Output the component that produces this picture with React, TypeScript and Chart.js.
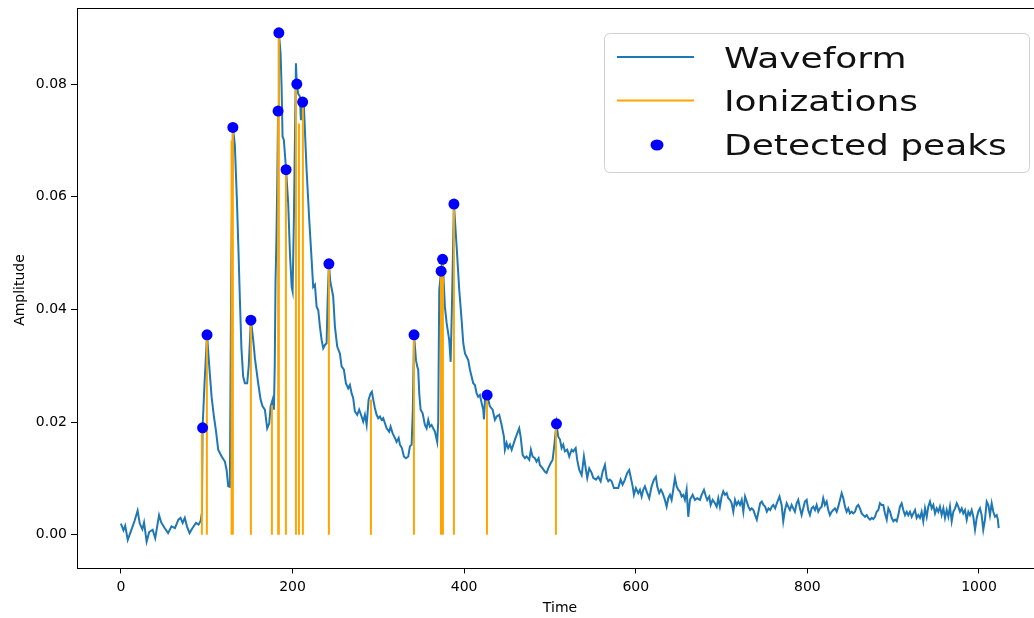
import React, { useEffect, useRef } from "react";
import { Chart, registerables } from "chart.js";

Chart.register(...registerables);

// ---------------- data ----------------
const waveTime = [
  0, 3, 5, 8, 12, 16, 19.5, 22, 25, 27, 30, 33, 37, 40, 44.5, 47, 51, 55, 59, 63, 67, 69.5, 72, 74.5, 77, 80, 83.5, 87.5, 90.5, 93,
  94.5, 95.2, 97.5, 100.4, 103, 105.7, 108.4, 110.7, 113.4, 117.4, 121.2, 123.2, 125.1, 127, 128.5, 130.5, 132.8, 135.2, 137, 138.7,
  140.5, 142.5, 144.5, 147.2, 149, 151.5, 154.2, 156.2, 160, 162.8, 165.1, 167.8, 170.5, 172.9, 174.5, 176.8, 178.3, 179.3, 180.2, 181.2,
  182.2, 183.2, 184.1, 186.1, 187.3, 188.4, 189.9, 192.5, 195, 197, 199, 200.1, 201.6, 204, 205, 206.6, 208.6, 209.8, 211.8, 213.3,
  216.4, 219.5, 222.3, 224.1, 226.1, 228.1, 230, 231.9, 233.9, 235.8, 237.8, 239.7, 241, 242.4, 244, 247.4, 249.4, 252.1, 255.2, 257.2,
  259.9, 262.2, 264.9, 266.9, 268.9, 270.7, 272.7, 275.4, 277.7, 280.5, 282.4, 284.4, 286.4, 288.7, 291, 292.5, 294.1, 296, 298, 299.9,
  301.9, 303.8, 305.7, 307.7, 309.7, 312.7, 314.3, 316.7, 319.3, 321.3, 323.7, 325.2, 327.5, 329.8, 332.2, 334.9, 336.8, 338.8, 340.2, 341.6,
  343.9, 345.3, 346.5, 347.7, 349.3, 351.6, 354.3, 356.3, 358.2, 360.1, 362.1, 364, 366, 368.6, 369.8, 371, 373.2, 374.9, 377.6, 379.6,
  382.6, 384.3, 386, 388.1, 391.3, 394.3, 397.1, 399, 401, 402.9, 404.8, 406.8, 408.7, 410.6, 412.6, 414.6, 416.4, 418.4, 420.4, 422.3,
  423.1, 424.3, 426.8, 430, 433.2, 435.9, 437.9, 440.9, 443.7, 446.4, 447.5, 449.5, 451.4, 453.4, 455.4, 459.2, 461.9, 464.2, 465.9, 468.2,
  470.9, 472.8, 475.9, 477.8, 479.8, 482.5, 484.4, 486.8, 488.3, 491.5, 494.2, 496.1, 498, 500.8, 503.1, 505.2, 507.6, 509.7, 511.7, 513.6,
  515.5, 517.5, 520.2, 522.5, 525.3, 527.2, 530, 531.8, 534.2, 537, 539.6, 542, 543.5, 545.8, 548.6, 550.5, 553.6, 556.3, 559.1, 561.4,
  564.1, 566.1, 568, 569.9, 571.9, 574.6, 579.6, 582.4, 584.7, 587.4, 590.1, 592.4, 596.4, 597.9, 600.2, 602.9, 604.9, 606.9, 608.7, 610.7,
  612.7, 615.7, 618.5, 621.2, 623.5, 625, 627.4, 629.4, 631.4, 634, 636, 637.9, 639.9, 641.8, 643.7, 645.7, 647.7, 649.5, 651.5, 653.5,
  655.4, 657.3, 659.3, 661.2, 663.2, 666.3, 669, 671.7, 674.8, 676.8, 679.5, 681.8, 683.3, 685.7, 687.3, 689.6, 692.3, 694.3, 696.2, 698.1,
  700.1, 702, 704, 706, 707.8, 709.8, 711.8, 713.7, 715.7, 717.6, 719.6, 721.5, 723.5, 725.4, 727.4, 729.4, 731.3, 733.3, 735.2, 737.1,
  739.1, 741.1, 743, 745, 746.9, 748.8, 750.8, 752.8, 754.7, 756.7, 758.6, 760.3, 762.5, 764.4, 767.5, 770, 771.9, 773.9, 775.9, 777.7,
  779.7, 781.7, 783.6, 785.5, 787.5, 789.4, 791.4, 793.3, 795.2, 797.2, 799.2, 801, 803, 805, 806.9, 808.9, 810.8, 812.7, 814.7, 816.7,
  818.5, 820.5, 822.5, 824.4, 826.3, 828.3, 830.2, 832.2, 834.2, 836, 838, 840, 841.9, 843.9, 845.8, 847.7, 849.6, 851.6, 853.5, 855.5,
  857.5, 859.4, 861.3, 863.3, 865.2, 867.2, 869.2, 871, 873, 875, 876.8, 878.8, 880.8, 882.7, 884.6, 886.6, 888.5, 890.5, 892.5, 894.4,
  896.3, 898.3, 900.2, 902.2, 904.1, 906, 907.9, 909.9, 911.8, 913.8, 915.8, 917.6, 919.6, 921.6, 923.5, 925.5, 927.4, 929.3, 931.2, 933.2,
  935.1, 937.1, 939.1, 940.9, 942.9, 944.9, 946.8, 948.8, 950.7, 952.6, 954.5, 956.5, 958.5, 960.4, 962.4, 964.3, 966.2, 968.2, 970.1, 972.1,
  974.1, 975.9, 977.9, 979.9, 981.7, 983.7, 985.7, 987.6, 989.5, 991.5, 993.4, 995.4, 997.4, 999.2, 1001.2, 1003.1, 1005, 1007, 1009, 1010.9,
  1012.8, 1014.8, 1016.7, 1018.7, 1020.7, 1022, 1023,
];

const waveAmp = [
  0.002, 0.0008, 0.0016, -0.0009, 0.0008, 0.0025, 0.0043, 0.002, 0.001, 0.0022, -0.0012, 0.0005, 0.0009, -0.0006, 0.0035, 0.0022, 0.0012, 0.0003, 0.0015, 0.0012, 0.0027, 0.003, 0.0021, 0.003, 0.0015, 0.0003, 0.0012, 0.0021, 0.0018, 0.0025,
  0.004, 0.019, 0.027, 0.0355, 0.0299, 0.0245, 0.021, 0.0186, 0.0151, 0.0139, 0.013, 0.0115, 0.0086, 0.0085, 0.045, 0.0723, 0.0692, 0.0594, 0.0506, 0.0417,
  0.033, 0.0281, 0.0269, 0.0269, 0.03, 0.0381, 0.0346, 0.0313, 0.0269, 0.024, 0.0228, 0.0222, 0.0189, 0.0198, 0.0228, 0.024, 0.0222, 0.03, 0.045, 0.052,
  0.062, 0.0752, 0.0891, 0.0854, 0.0795, 0.0707, 0.0701, 0.0648, 0.0588, 0.05, 0.044, 0.0432, 0.0559, 0.0837, 0.08, 0.0783, 0.0778, 0.0736, 0.0768, 0.076,
  0.0648, 0.0559, 0.0488, 0.044, 0.0444, 0.0405, 0.0399, 0.037, 0.0346, 0.0331, 0.0337, 0.034, 0.042, 0.0481, 0.045, 0.0423, 0.037, 0.0334, 0.0322, 0.0299,
  0.0293, 0.0269, 0.026, 0.0266, 0.0251, 0.0243, 0.0219, 0.0213, 0.0222, 0.021, 0.0201, 0.0213, 0.0195, 0.024, 0.0251, 0.0254, 0.024, 0.0225, 0.0213, 0.0207,
  0.021, 0.0204, 0.0207, 0.0198, 0.0189, 0.0183, 0.0192, 0.018, 0.0172, 0.0165, 0.0172, 0.016, 0.0154, 0.0139, 0.0136, 0.0139, 0.0157, 0.016, 0.022, 0.0355,
  0.031, 0.0299, 0.0293, 0.0251, 0.0222, 0.0216, 0.0195, 0.0189, 0.0204, 0.0192, 0.0195, 0.0189, 0.0183, 0.0165, 0.02, 0.0435, 0.0468, 0.0489, 0.0405, 0.0376,
  0.0346, 0.0307, 0.042, 0.0587, 0.0511, 0.0435, 0.0381, 0.034, 0.0322, 0.0316, 0.031, 0.0293, 0.0281, 0.0269, 0.0266, 0.0251, 0.0245, 0.0248, 0.0234, 0.0222,
  0.0205, 0.024, 0.0248, 0.0228, 0.0222, 0.0204, 0.021, 0.0213, 0.0195, 0.0174, 0.0151, 0.0163, 0.0154, 0.016, 0.0151, 0.0169, 0.018, 0.0189, 0.0174, 0.0142,
  0.0136, 0.0139, 0.0133, 0.0151, 0.0139, 0.0136, 0.013, 0.0136, 0.0124, 0.0118, 0.0112, 0.011, 0.0118, 0.0127, 0.0133, 0.016, 0.0197, 0.0174, 0.0169, 0.0154,
  0.016, 0.0148, 0.0151, 0.0139, 0.0151, 0.0148, 0.0154, 0.0133, 0.0115, 0.0106, 0.0139, 0.0115, 0.0101, 0.0118, 0.011, 0.0101, 0.0098, 0.0103, 0.0095, 0.0112,
  0.0124, 0.0101, 0.0095, 0.0098, 0.0095, 0.0083, 0.0083, 0.0098, 0.0089, 0.0098, 0.011, 0.0115, 0.0086, 0.0071, 0.0083, 0.0074, 0.008, 0.0068, 0.008, 0.0086,
  0.0077, 0.0065, 0.0086, 0.0098, 0.0103, 0.0086, 0.0074, 0.008, 0.0074, 0.0062, 0.005, 0.0065, 0.0071, 0.0062, 0.008, 0.0101, 0.0086, 0.008, 0.0077, 0.0068,
  0.0071, 0.0062, 0.008, 0.0032, 0.0062, 0.0071, 0.0062, 0.0065, 0.0062, 0.0071, 0.008, 0.0068, 0.0062, 0.0068, 0.0053, 0.0062, 0.0056, 0.005, 0.0065, 0.005,
  0.0068, 0.0077, 0.0071, 0.0074, 0.0065, 0.0062, 0.0056, 0.0041, 0.0062, 0.0053, 0.0059, 0.0053, 0.0062, 0.0041, 0.0068, 0.0059, 0.005, 0.0044, 0.0047, 0.0044,
  0.0035, 0.0027, 0.0041, 0.0056, 0.0059, 0.0053, 0.005, 0.0041, 0.0047, 0.0044, 0.005, 0.0053, 0.0047, 0.0056, 0.0068, 0.0053, 0.0024, 0.0044, 0.0056, 0.005,
  0.0044, 0.0053, 0.0047, 0.0041, 0.0056, 0.0062, 0.0047, 0.0035, 0.0047, 0.0059, 0.0062, 0.0044, 0.0035, 0.0047, 0.005, 0.0044, 0.0053, 0.0041, 0.0047, 0.005,
  0.0065, 0.0053, 0.0059, 0.0044, 0.0035, 0.0041, 0.0044, 0.0047, 0.0041, 0.005, 0.0062, 0.0074, 0.0065, 0.005, 0.0041, 0.0047, 0.0038, 0.0041, 0.0038, 0.0041,
  0.005, 0.0053, 0.0047, 0.0038, 0.0035, 0.0032, 0.0035, 0.003, 0.0027, 0.003, 0.0028, 0.0032, 0.0041, 0.0044, 0.0056, 0.0053, 0.0053, 0.0038, 0.0027, 0.0047,
  0.0041, 0.003, 0.0024, 0.0027, 0.0024, 0.0035, 0.005, 0.0056, 0.0044, 0.0035, 0.0041, 0.0035, 0.0041, 0.0032, 0.0038, 0.0044, 0.003, 0.0035, 0.003, 0.0041,
  0.0024, 0.0047, 0.0032, 0.005, 0.0059, 0.0047, 0.0053, 0.0038, 0.0047, 0.0041, 0.005, 0.0035, 0.0047, 0.003, 0.0044, 0.0032, 0.005, 0.0024, 0.0041, 0.0047,
  0.0056, 0.005, 0.0041, 0.0047, 0.0038, 0.0044, 0.0027, 0.0041, 0.0035, 0.0044, 0.0032, 0.0009, 0.003, 0.0041, 0.0047, 0.0035, 0.0009, 0.0027, 0.0059, 0.0053,
  0.0035, 0.0056, 0.0041, 0.0032, 0.0035, 0.0027, 0.0012,
];

const ionTime = [94.4, 100.2, 129, 130.5, 151.5, 176, 183.3, 184.1, 192.3, 204, 207.5, 212.1, 242.4, 291.4, 341.5, 373, 375.3, 388.1, 426.6, 507];
const ionAmp = [0.019, 0.0355, 0.07, 0.0723, 0.0381, 0.023, 0.0752, 0.0891, 0.0648, 0.08, 0.073, 0.0768, 0.0481, 0.024, 0.0355, 0.0468, 0.0489, 0.0587, 0.0248, 0.0197];

const peakTime = [95.2, 100.4, 130.5, 151.5, 183.2, 184.1, 192.5, 205, 211.8, 242.4, 341.6, 373.2, 374.9, 388.1, 426.8, 507.6];
const peakAmp = [0.019, 0.0355, 0.0723, 0.0381, 0.0752, 0.0891, 0.0648, 0.08, 0.0768, 0.0481, 0.0355, 0.0468, 0.0489, 0.0587, 0.0248, 0.0197];

const xTicks = [0, 200, 400, 600, 800, 1000];
const yTicks = [0, 0.02, 0.04, 0.06, 0.08];
const legendLabels = ["Waveform", "Ionizations", "Detected peaks"];
const xTitle = "Time";
const yTitle = "Amplitude";

// ---------------- styles ----------------
const FONT = "'DejaVu Sans', 'Liberation Sans', sans-serif";
const BLUE_LINE = "#1f77b4";
const ORANGE = "#ffa500";
const DOT = "#0000ff";

export default function App() {
  const ref = useRef<HTMLCanvasElement>(null);

  useEffect(() => {
    const canvas = ref.current;
    if (!canvas) return;

    const wave = waveTime.map((t, i) => ({ x: t, y: waveAmp[i] }));
    const stems: any[] = [];
    ionTime.forEach((t, i) => {
      stems.push({ x: t, y: 0 }, { x: t, y: ionAmp[i] }, { x: t, y: null });
    });
    const peaks = peakTime.map((t, i) => ({ x: t, y: peakAmp[i] }));

    const decorPlugin = {
      id: "decor",
      afterDatasetsDraw(chart: any) {
        const { ctx, chartArea } = chart;
        ctx.save();
        ctx.strokeStyle = "#000";
        ctx.lineWidth = 1;
        ctx.strokeRect(
          Math.round(chartArea.left) + 0.5,
          Math.round(chartArea.top) + 0.5,
          Math.round(chartArea.right - chartArea.left),
          Math.round(chartArea.bottom - chartArea.top)
        );
        ctx.restore();
      },
      afterDraw(chart: any) {
        const { ctx } = chart;
        ctx.save();
        // axis titles
        ctx.fillStyle = "#000";
        ctx.font = `14px ${FONT}`;
        ctx.textAlign = "center";
        ctx.textBaseline = "middle";
        ctx.fillText(xTitle, 560, 608);
        ctx.save();
        ctx.translate(20, 290);
        ctx.rotate(-Math.PI / 2);
        ctx.fillText(yTitle, 0, 0);
        ctx.restore();

        // legend box
        const bx = 604.5, by = 33.5, bw = 425, bh = 139, r = 6;
        ctx.beginPath();
        ctx.moveTo(bx + r, by);
        ctx.lineTo(bx + bw - r, by);
        ctx.quadraticCurveTo(bx + bw, by, bx + bw, by + r);
        ctx.lineTo(bx + bw, by + bh - r);
        ctx.quadraticCurveTo(bx + bw, by + bh, bx + bw - r, by + bh);
        ctx.lineTo(bx + r, by + bh);
        ctx.quadraticCurveTo(bx, by + bh, bx, by + bh - r);
        ctx.lineTo(bx, by + r);
        ctx.quadraticCurveTo(bx, by, bx + r, by);
        ctx.closePath();
        ctx.fillStyle = "rgba(255,255,255,0.85)";
        ctx.fill();
        ctx.strokeStyle = "#d0d0d0";
        ctx.lineWidth = 1;
        ctx.stroke();

        const rows = [57, 100.5, 145];
        const baselines = [67.5, 111, 155];
        ctx.lineWidth = 2;
        ctx.strokeStyle = BLUE_LINE;
        ctx.beginPath();
        ctx.moveTo(617, rows[0]);
        ctx.lineTo(694, rows[0]);
        ctx.stroke();
        ctx.strokeStyle = ORANGE;
        ctx.beginPath();
        ctx.moveTo(617, rows[1]);
        ctx.lineTo(694, rows[1]);
        ctx.stroke();
        ctx.fillStyle = DOT;
        ctx.beginPath();
        ctx.ellipse(657, rows[2], 6.5, 5.5, 0, 0, Math.PI * 2);
        ctx.fill();

        ctx.fillStyle = "#111";
        ctx.font = `29px ${FONT}`;
        ctx.textAlign = "left";
        ctx.textBaseline = "alphabetic";
        legendLabels.forEach((lab, i) => {
          ctx.save();
          ctx.translate(724, baselines[i]);
          ctx.scale(1.24, 1);
          ctx.fillText(lab, 0, 0);
          ctx.restore();
        });
        ctx.restore();
      },
    };

    const chart = new Chart(canvas, {
      type: "line",
      data: {
        datasets: [
          {
            label: legendLabels[0],
            data: wave,
            borderColor: BLUE_LINE,
            borderWidth: 2,
            pointRadius: 0,
            tension: 0,
            order: 3,
          },
          {
            label: legendLabels[1],
            data: stems,
            borderColor: ORANGE,
            borderWidth: 2,
            pointRadius: 0,
            spanGaps: false,
            order: 2,
          },
          {
            label: legendLabels[2],
            data: peaks,
            showLine: false,
            pointRadius: 5.5,
            pointBackgroundColor: DOT,
            pointBorderColor: DOT,
            pointBorderWidth: 0,
            order: 1,
          },
        ] as any,
      },
      options: {
        animation: false,
        responsive: false,
        maintainAspectRatio: false,
        devicePixelRatio: 1,
        layout: { padding: { left: 0, right: 7.4, top: 8, bottom: 0 } },
        plugins: { legend: { display: false }, tooltip: { enabled: false } },
        scales: {
          x: {
            type: "linear",
            min: -51.15,
            max: 1074.15,
            afterFit: (s: any) => {
              s.height = 50.5;
              s.paddingLeft = 0;
              s.paddingRight = 0;
            },
            afterBuildTicks: (s: any) => {
              s.ticks = xTicks.map((v) => ({ value: v }));
            },
            grid: { drawOnChartArea: false, drawTicks: true, tickLength: 6, color: "#000", tickWidth: 1 },
            border: { display: false },
            ticks: {
              color: "#000",
              font: { family: FONT, size: 14 },
              padding: 5,
              maxRotation: 0,
              autoSkip: false,
              callback: (v: any) => String(v),
            },
          },
          y: {
            type: "linear",
            min: -0.0058,
            max: 0.0935,
            afterFit: (s: any) => {
              s.width = 77;
              s.paddingTop = 0;
              s.paddingBottom = 0;
            },
            afterBuildTicks: (s: any) => {
              s.ticks = yTicks.map((v) => ({ value: v }));
            },
            grid: { drawOnChartArea: false, drawTicks: true, tickLength: 6, color: "#000", tickWidth: 1 },
            border: { display: false },
            ticks: {
              color: "#000",
              font: { family: FONT, size: 14 },
              padding: 4,
              autoSkip: false,
              callback: (v: any) => Number(v).toFixed(2),
            },
          },
        },
      },
      plugins: [decorPlugin],
    } as any);

    return () => chart.destroy();
  }, []);

  return (
    <div
      style={{
        position: "absolute",
        left: 0,
        top: 0,
        width: 1034,
        height: 618,
        overflow: "hidden",
        background: "#fff",
      }}
    >
      <canvas ref={ref} width={1050} height={618} style={{ width: 1050, height: 618, display: "block" }} />
    </div>
  );
}
